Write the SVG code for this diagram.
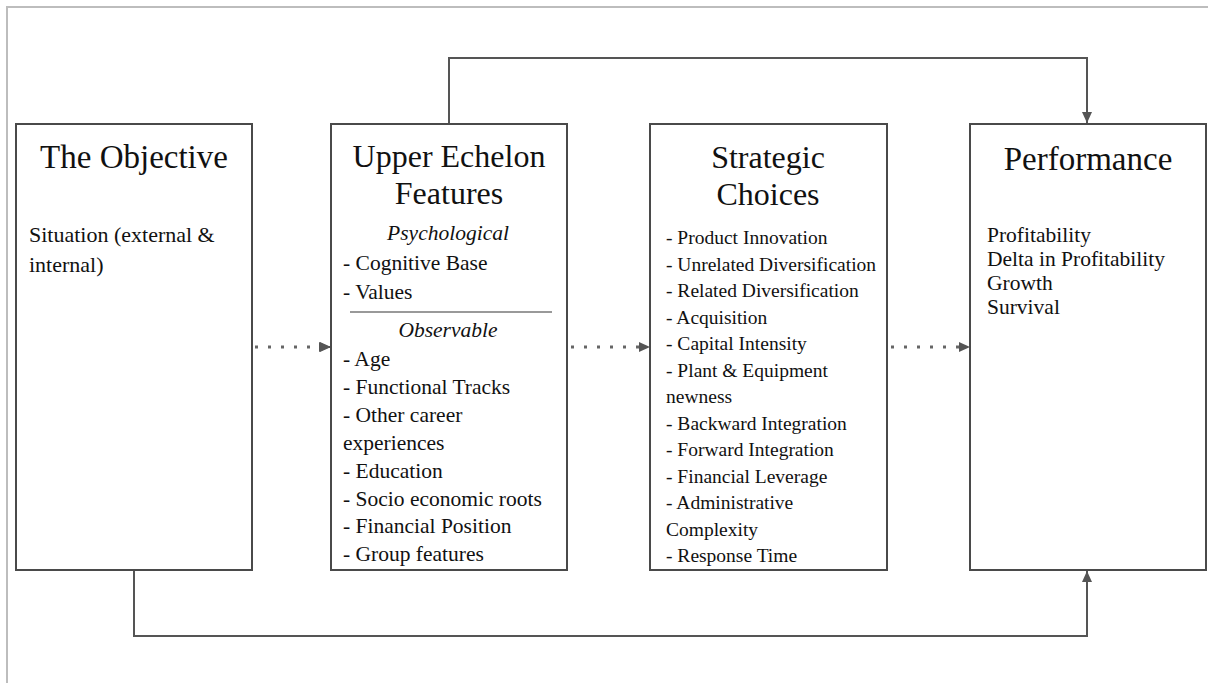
<svg xmlns="http://www.w3.org/2000/svg" width="1208" height="683" viewBox="0 0 1208 683">
<style>
.box{fill:#fff;stroke:#4a4a4a;stroke-width:2}
.title{font-family:"Liberation Serif","Times New Roman",serif;font-size:32px;fill:#111;text-anchor:middle}
.body{font-family:"Liberation Serif","Times New Roman",serif;font-size:21.5px;fill:#111}
.small{font-family:"Liberation Serif","Times New Roman",serif;font-size:19.5px;fill:#111}
.ital{font-style:italic;text-anchor:middle}
.conn{fill:none;stroke:#555;stroke-width:2}
.dot{fill:none;stroke:#666;stroke-width:3;stroke-dasharray:3 10}
</style>
<defs>
<marker id="ah" markerUnits="userSpaceOnUse" markerWidth="12" markerHeight="10" refX="11" refY="5" orient="auto">
<path d="M0,0 L11,5 L0,10 Z" fill="#555"/>
</marker>
</defs>
<g id="frame">
<path d="M7,683 L7,7 L1208,7" fill="none" stroke="#bdbdbd" stroke-width="2"/>
</g>
<g id="connectors">
<path class="conn" d="M449,124 L449,58 L1087,58 L1087,123" marker-end="url(#ah)"/>
<path class="conn" d="M134,570 L134,636 L1087,636 L1087,571" marker-end="url(#ah)"/>
<path class="dot" d="M255,347 L322,347"/>
<path class="conn" d="M320,347 L330,347" marker-end="url(#ah)" stroke="none"/>
<path d="M320,342 L331,347 L320,352 Z" fill="#555"/>
<path class="dot" d="M571,347 L640,347"/>
<path d="M639,342 L650,347 L639,352 Z" fill="#555"/>
<path class="dot" d="M891,347 L959,347"/>
<path d="M959,342 L970,347 L959,352 Z" fill="#555"/>
</g>
<g id="objective">
<rect class="box" x="16" y="124" width="236" height="446"/>
<text class="title" x="134" y="168" style="font-size:33px">The Objective</text>
<text class="body" x="29" y="242" style="font-size:22px">Situation (external &amp;</text>
<text class="body" x="29" y="272" style="font-size:22px">internal)</text>
</g>
<g id="upper-echelon">
<rect class="box" x="331" y="124" width="236" height="446"/>
<text class="title" x="449" y="167">Upper Echelon</text>
<text class="title" x="449" y="204">Features</text>
<text class="body ital" x="448" y="240">Psychological</text>
<text class="body" x="343" y="270">- Cognitive Base</text>
<text class="body" x="343" y="299">- Values</text>
<line x1="350" y1="312" x2="552" y2="312" stroke="#777" stroke-width="1.5"/>
<text class="body ital" x="448" y="337">Observable</text>
<text class="body" x="343" y="366">- Age</text>
<text class="body" x="343" y="394">- Functional Tracks</text>
<text class="body" x="343" y="422">- Other career</text>
<text class="body" x="343" y="450">experiences</text>
<text class="body" x="343" y="478">- Education</text>
<text class="body" x="343" y="506">- Socio economic roots</text>
<text class="body" x="343" y="533">- Financial Position</text>
<text class="body" x="343" y="561">- Group features</text>
</g>
<g id="strategic-choices">
<rect class="box" x="650" y="124" width="237" height="446"/>
<text class="title" x="768" y="168">Strategic</text>
<text class="title" x="768" y="205">Choices</text>
<text class="small" x="666" y="244">- Product Innovation</text>
<text class="small" x="666" y="270.5">- Unrelated Diversification</text>
<text class="small" x="666" y="297">- Related Diversification</text>
<text class="small" x="666" y="323.5">- Acquisition</text>
<text class="small" x="666" y="350">- Capital Intensity</text>
<text class="small" x="666" y="376.5">- Plant &amp; Equipment</text>
<text class="small" x="666" y="403">newness</text>
<text class="small" x="666" y="429.5">- Backward Integration</text>
<text class="small" x="666" y="456">- Forward Integration</text>
<text class="small" x="666" y="482.5">- Financial Leverage</text>
<text class="small" x="666" y="509">- Administrative</text>
<text class="small" x="666" y="535.5">Complexity</text>
<text class="small" x="666" y="562">- Response Time</text>
</g>
<g id="performance">
<rect class="box" x="970" y="124" width="236" height="446"/>
<text class="title" x="1088" y="170" style="font-size:33px">Performance</text>
<text class="body" x="987" y="242">Profitability</text>
<text class="body" x="987" y="266">Delta in Profitability</text>
<text class="body" x="987" y="290">Growth</text>
<text class="body" x="987" y="314">Survival</text>
</g>
</svg>
